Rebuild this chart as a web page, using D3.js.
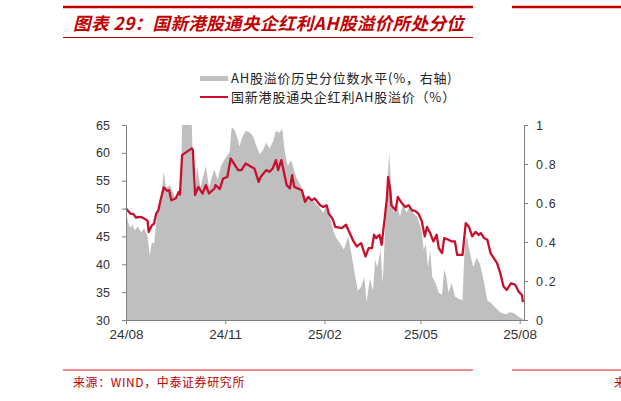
<!DOCTYPE html>
<html><head><meta charset="utf-8">
<script src="https://cdn.jsdelivr.net/npm/d3@7"></script>
<style>
html,body{margin:0;padding:0;background:#fff;}
svg{display:block;}
</style></head>
<body>
<div id="chart"></div>
<script>
const title = "图表 29：国新港股通央企红利AH股溢价所处分位";
const source = "来源：WIND，中泰证券研究所";
const legendLabels = ["AH股溢价历史分位数水平(%，右轴)", "国新港股通央企红利AH股溢价（%）"];
const xTickDates = ["2024-08-01","2024-11-01","2025-02-01","2025-05-01","2025-08-01"];
const xTickLabels = ["24/08","24/11","25/02","25/05","25/08"];
const leftTicks = [30,35,40,45,50,55,60,65];
const rightTicks = [0,0.2,0.4,0.6,0.8,1];
const rightTickLabels = ["0","0.2","0.4","0.6","0.8","1"];

// Red line: premium (%) – left axis
const premiumDates = ["2024-08-01","2024-08-05","2024-08-08","2024-08-10","2024-08-15","2024-08-19","2024-08-21","2024-08-22","2024-08-25","2024-08-27","2024-08-29","2024-08-31","2024-09-02","2024-09-05","2024-09-08","2024-09-10","2024-09-12","2024-09-16","2024-09-19","2024-09-20","2024-09-22","2024-10-01","2024-10-02","2024-10-04","2024-10-07","2024-10-11","2024-10-14","2024-10-17","2024-10-22","2024-10-23","2024-10-27","2024-10-30","2024-11-03","2024-11-06","2024-11-10","2024-11-13","2024-11-16","2024-11-20","2024-11-25","2024-11-28","2024-12-02","2024-12-04","2024-12-09","2024-12-12","2024-12-15","2024-12-18","2024-12-20","2024-12-23","2024-12-28","2024-12-31","2025-01-02","2025-01-04","2025-01-11","2025-01-14","2025-01-17","2025-01-20","2025-01-23","2025-01-28","2025-01-31","2025-02-03","2025-02-05","2025-02-08","2025-02-09","2025-02-11","2025-02-17","2025-02-21","2025-02-23","2025-02-28","2025-03-03","2025-03-07","2025-03-11","2025-03-14","2025-03-17","2025-03-19","2025-03-21","2025-03-24","2025-03-26","2025-03-29","2025-03-31","2025-04-01","2025-04-03","2025-04-04","2025-04-08","2025-04-10","2025-04-14","2025-04-17","2025-04-20","2025-04-23","2025-04-26","2025-04-29","2025-05-02","2025-05-05","2025-05-07","2025-05-10","2025-05-13","2025-05-16","2025-05-18","2025-05-21","2025-05-23","2025-05-27","2025-05-30","2025-06-02","2025-06-04","2025-06-09","2025-06-12","2025-06-15","2025-06-18","2025-06-21","2025-06-24","2025-06-26","2025-06-29","2025-07-02","2025-07-05","2025-07-08","2025-07-11","2025-07-14","2025-07-17","2025-07-20","2025-07-24","2025-07-28","2025-07-31","2025-08-03","2025-08-04"];
const premiumValues = [50.0,49.1,49.0,48.4,48.5,48.1,47.8,45.8,47.0,47.3,49.1,49.7,51.5,53.8,53.2,53.3,51.5,51.8,53.0,52.5,59.6,60.8,60.5,52.4,53.9,52.7,54.2,52.7,53.6,54.2,53.5,55.4,55.7,59.0,57.8,56.9,56.9,58.1,57.5,57.2,54.8,55.7,56.9,56.6,57.2,58.7,56.9,58.7,54.2,53.6,56.0,53.9,53.3,51.2,52.1,51.5,51.8,50.6,50.3,50.6,49.1,48.3,47.9,46.7,46.5,47.1,46.2,44.1,43.2,43.8,41.4,42.9,42.9,45.3,44.7,45.3,43.5,48.5,52.1,55.7,53.3,50.6,49.7,52.1,50.9,50.3,50.6,49.7,49.6,49.1,47.9,45.0,46.7,45.6,44.1,45.3,42.9,42.0,44.7,44.4,44.1,44.1,41.7,41.7,47.4,46.7,45.0,45.8,45.3,45.6,44.7,44.4,42.0,41.1,40.2,38.4,36.0,35.4,36.6,36.3,35.1,34.5,33.2];

// Grey area: historical percentile – right axis
const pctDates = ["2024-08-01","2024-08-03","2024-08-05","2024-08-07","2024-08-09","2024-08-12","2024-08-15","2024-08-18","2024-08-21","2024-08-23","2024-08-25","2024-08-27","2024-08-30","2024-09-02","2024-09-05","2024-09-07","2024-09-11","2024-09-16","2024-09-19","2024-09-21","2024-09-22","2024-10-01","2024-10-03","2024-10-06","2024-10-09","2024-10-14","2024-10-17","2024-10-20","2024-10-22","2024-10-25","2024-10-28","2024-10-31","2024-11-05","2024-11-07","2024-11-10","2024-11-13","2024-11-14","2024-11-17","2024-11-20","2024-11-24","2024-11-27","2024-11-30","2024-12-03","2024-12-06","2024-12-09","2024-12-12","2024-12-15","2024-12-18","2024-12-21","2024-12-24","2024-12-26","2024-12-29","2025-01-01","2025-01-06","2025-01-11","2025-01-15","2025-01-21","2025-01-27","2025-01-31","2025-02-02","2025-02-07","2025-02-09","2025-02-12","2025-02-16","2025-02-19","2025-02-23","2025-02-26","2025-03-01","2025-03-04","2025-03-07","2025-03-10","2025-03-12","2025-03-15","2025-03-18","2025-03-20","2025-03-22","2025-03-25","2025-03-27","2025-03-30","2025-04-02","2025-04-04","2025-04-06","2025-04-09","2025-04-12","2025-04-15","2025-04-18","2025-04-21","2025-04-24","2025-04-28","2025-05-02","2025-05-04","2025-05-06","2025-05-08","2025-05-10","2025-05-12","2025-05-15","2025-05-18","2025-05-21","2025-05-23","2025-05-25","2025-05-27","2025-05-30","2025-06-02","2025-06-05","2025-06-09","2025-06-11","2025-06-13","2025-06-16","2025-06-19","2025-06-22","2025-06-25","2025-06-28","2025-07-02","2025-07-05","2025-07-10","2025-07-14","2025-07-19","2025-07-23","2025-07-27","2025-07-30","2025-08-02","2025-08-04","2025-08-05"];
const pctValues = [0.56,0.50,0.47,0.49,0.46,0.48,0.45,0.47,0.43,0.33,0.40,0.39,0.55,0.60,0.76,0.68,0.69,0.62,0.65,0.70,1.0,1.0,0.62,0.79,0.68,0.79,0.68,0.74,0.77,0.72,0.79,0.82,0.86,0.99,0.97,0.92,0.89,0.94,0.97,0.96,0.94,0.89,0.85,0.87,0.91,0.88,0.91,0.97,0.96,0.98,0.87,0.79,0.82,0.73,0.68,0.62,0.615,0.58,0.55,0.58,0.51,0.46,0.42,0.39,0.36,0.43,0.34,0.24,0.15,0.17,0.22,0.09,0.21,0.15,0.31,0.27,0.36,0.19,0.56,0.86,0.67,0.55,0.60,0.53,0.60,0.55,0.58,0.55,0.53,0.46,0.36,0.39,0.27,0.36,0.22,0.19,0.14,0.13,0.26,0.22,0.14,0.19,0.12,0.11,0.10,0.38,0.43,0.34,0.27,0.32,0.29,0.22,0.10,0.09,0.06,0.04,0.03,0.04,0.035,0.02,0.01,0.005,0.0];

const W = 621, H = 401;
const parse = d3.timeParse("%Y-%m-%d");
const red = "#C8102E", titleRed = "#C00000", axisGrey = "#808080", txt = "#333";

const svg = d3.select("#chart").append("svg").attr("width", W).attr("height", H);

// Header
svg.append("line").attr("x1",63).attr("x2",473).attr("y1",7).attr("y2",7).attr("stroke",titleRed).attr("stroke-width",2.5);
svg.append("line").attr("x1",512).attr("x2",621).attr("y1",7).attr("y2",7).attr("stroke",titleRed).attr("stroke-width",2.5);
svg.append("text").attr("x",73).attr("y",30).attr("fill",titleRed)
  .attr("font-family","'Noto Sans CJK SC', sans-serif").attr("font-weight","bold").attr("font-style","italic")
  .attr("font-size",17.5).attr("letter-spacing",0.4).text(title);
svg.append("line").attr("x1",63).attr("x2",473).attr("y1",37.5).attr("y2",37.5).attr("stroke",titleRed).attr("stroke-width",1);

// Footer
svg.append("line").attr("x1",63).attr("x2",473).attr("y1",370).attr("y2",370).attr("stroke","#D02020").attr("stroke-width",1.2);
svg.append("line").attr("x1",512).attr("x2",621).attr("y1",370).attr("y2",370).attr("stroke","#D02020").attr("stroke-width",1.2);
svg.append("text").attr("x",73).attr("y",387).attr("fill","#C00000")
  .attr("font-family","'Noto Sans CJK SC', sans-serif").attr("font-size",12).attr("letter-spacing",0.6).text(source);
svg.append("text").attr("x",614).attr("y",387).attr("fill","#C00000")
  .attr("font-family","'Noto Sans CJK SC', sans-serif").attr("font-size",12).text("来");

// Scales
const x = d3.scaleTime().domain([parse("2024-08-01"), parse("2025-08-05")]).range([126, 524]);
const yL = d3.scaleLinear().domain([30,65]).range([320,125]);
const yR = d3.scaleLinear().domain([0,1]).range([320,125]);

// Grey area
const pctData = pctDates.map((d,i)=>({date:parse(d), v:pctValues[i]}));
svg.append("path").datum(pctData)
  .attr("fill","#BFBFBF")
  .attr("d", d3.area().x(d=>x(d.date)).y0(yR(0)).y1(d=>yR(d.v)));

// Red line
const premData = premiumDates.map((d,i)=>({date:parse(d), v:premiumValues[i]}));
svg.append("path").datum(premData)
  .attr("fill","none").attr("stroke",red).attr("stroke-width",2.3).attr("stroke-linejoin","round")
  .attr("d", d3.line().x(d=>x(d.date)).y(d=>yL(d.v)));

// Axes
const styleAxis = (g, fs) => {
  g.selectAll(".domain").attr("stroke",axisGrey);
  g.selectAll(".tick line").attr("stroke",axisGrey);
  g.selectAll("text").attr("fill",txt).attr("font-family","'Liberation Sans', Arial, sans-serif").attr("font-size",fs);
};
svg.append("g").attr("transform","translate(126,0)")
  .call(d3.axisLeft(yL).tickValues(leftTicks).tickSize(4).tickSizeOuter(4).tickPadding(12).tickFormat(d3.format("d")))
  .call(g=>styleAxis(g,12.5));
const gr = svg.append("g").attr("transform","translate(524,0)")
  .call(d3.axisRight(yR).tickValues(rightTicks).tickSize(4).tickSizeOuter(4).tickPadding(8).tickFormat((d,i)=>rightTickLabels[i]))
  .call(g=>styleAxis(g,12.5));
gr.selectAll("text").attr("letter-spacing",1.2);
svg.append("g").attr("transform","translate(0,320)")
  .call(d3.axisBottom(x).tickValues(xTickDates.map(parse)).tickSize(4).tickSizeOuter(0).tickPadding(5).tickFormat((d,i)=>xTickLabels[i]))
  .call(g=>styleAxis(g,13.5));

// Legend
const lg = svg.append("g");
lg.append("rect").attr("x",200).attr("y",76).attr("width",28).attr("height",5).attr("fill","#BFBFBF");
lg.append("line").attr("x1",200).attr("x2",228).attr("y1",97).attr("y2",97).attr("stroke",red).attr("stroke-width",2);
lg.selectAll("text.lab").data(legendLabels).join("text").attr("class","lab")
  .attr("x",231).attr("y",(d,i)=>78.5+i*19).attr("dy","0.35em")
  .attr("fill","#222").attr("font-family","'Noto Sans CJK SC', sans-serif").attr("font-size",13).attr("letter-spacing",0.8).text(d=>d);
</script>
</body></html>
